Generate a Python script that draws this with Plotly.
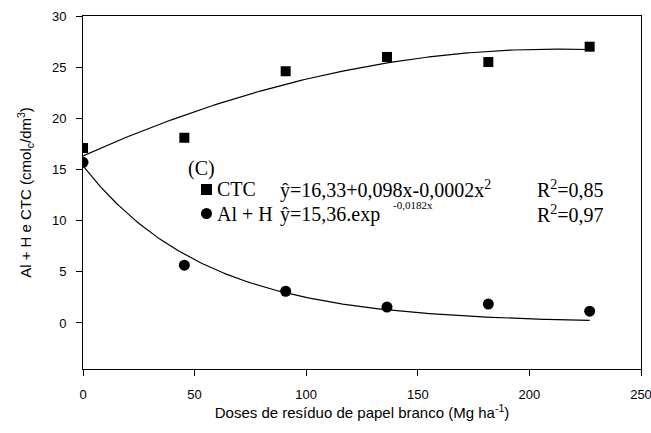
import numpy as np
import plotly.graph_objects as go

# Doses of white paper residue (Mg/ha) and measured soil values
doses = [0, 45.4, 90.8, 136.2, 181.6, 227]
ctc = [17.1, 18.1, 24.6, 26.0, 25.5, 27.0]
al_h = [15.7, 5.65, 3.1, 1.55, 1.85, 1.15]

# Regression coefficients
ctc_coef = (16.33, 0.098, -0.00023)
alh_coef = (15.36, -0.0182)

xt = [0, 50, 100, 150, 200, 250]
yt = [0, 5, 10, 15, 20, 25, 30]

xs = np.linspace(0, max(doses), 200)
ctc_fit = ctc_coef[0] + ctc_coef[1] * xs + ctc_coef[2] * xs ** 2
alh_fit = alh_coef[0] * np.exp(alh_coef[1] * xs)

W, H = 651, 433
L, R, T, B = 83, 641, 16, 369

def px(x):
    return (x - L) / (R - L)

def py(y):
    return (B - y) / (B - T)

fig = go.Figure()
line_style = dict(color="black", width=1.2)
fig.add_trace(go.Scatter(x=xs, y=ctc_fit, mode="lines", line=line_style, showlegend=False))
fig.add_trace(go.Scatter(x=xs, y=alh_fit, mode="lines", line=line_style, showlegend=False))
fig.add_trace(go.Scatter(x=doses, y=ctc, mode="markers", showlegend=False,
                         marker=dict(symbol="square", size=10, color="black")))
fig.add_trace(go.Scatter(x=doses, y=al_h, mode="markers", showlegend=False,
                         marker=dict(symbol="circle", size=11, color="black")))

serif = dict(family="Liberation Serif, Times New Roman, serif", size=20, color="black")
small_serif = dict(family="Liberation Serif, Times New Roman, serif", size=11, color="black")

def note(text, x, y, font=serif):
    fig.add_annotation(text=text, x=px(x), y=py(y), xref="paper", yref="paper",
                       xanchor="left", yanchor="middle", showarrow=False, font=font)

note("(C)", 186, 168)
note("CTC", 215, 189)
note("ŷ=16,33+0,098x-0,0002x<sup>2</sup>", 278, 189)
note("R<sup>2</sup>=0,85", 535, 189)
note("Al + H", 215, 214)
note("ŷ=15,36.exp", 278, 214)
note("-0,0182x", 391, 205, small_serif)
note("R<sup>2</sup>=0,97", 535, 214)

# Symbol keys beside the equations
fig.add_shape(type="rect", xref="paper", yref="paper",
              x0=px(201), x1=px(212), y0=py(195), y1=py(184),
              fillcolor="black", line=dict(width=0))
fig.add_shape(type="circle", xref="paper", yref="paper",
              x0=px(201), x1=px(212), y0=py(219), y1=py(208),
              fillcolor="black", line=dict(width=0))

sans = dict(family="Liberation Sans, Arial, sans-serif", color="black")
axis_common = dict(showgrid=False, zeroline=False, showline=True, linecolor="black",
                   linewidth=1, mirror=True, ticks="outside", ticklen=6, tickwidth=1,
                   tickcolor="black", tickfont=dict(size=13, **sans),
                   ticklabeloverflow="allow", automargin=False)

fig.update_xaxes(range=[0, 250], tickvals=xt, ticktext=[str(v) for v in xt],
                 ticklabelstandoff=7,
                 title=dict(text="Doses de resíduo de papel branco (Mg ha<sup>-1</sup>)",
                            font=dict(size=15, **sans), standoff=5),
                 **axis_common)
fig.update_yaxes(range=[-4.5, 30], tickvals=yt, ticktext=[str(v) for v in yt],
                 ticklabelstandoff=7,
                 title=dict(text="Al + H e CTC (cmol<sub>c</sub>/dm<sup>3</sup>)",
                            font=dict(size=15, **sans), standoff=16),
                 **axis_common)

fig.update_layout(width=W, height=H, margin=dict(l=L, r=W - R, t=T, b=H - B),
                  paper_bgcolor="white", plot_bgcolor="white")

fig.write_html("out.html")
